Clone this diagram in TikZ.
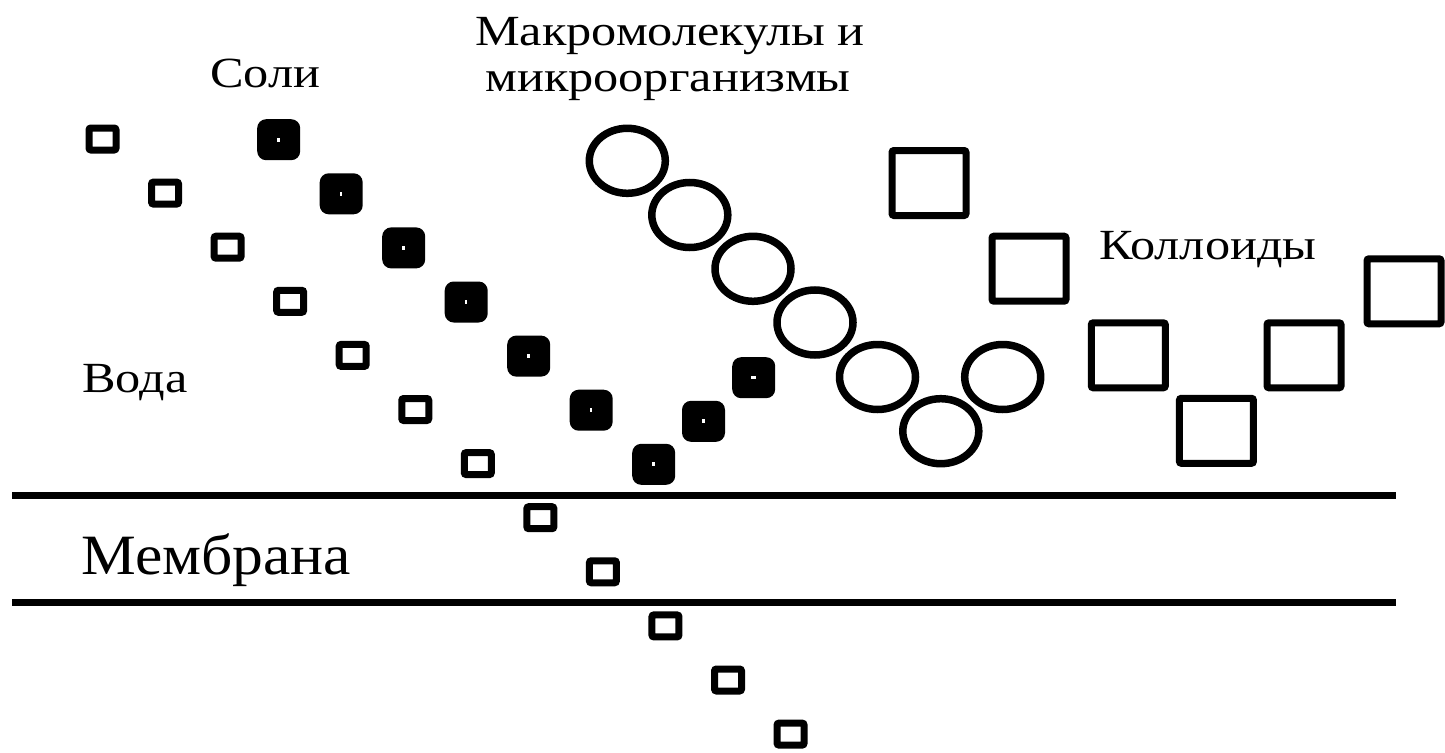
\documentclass[tikz,border=0pt]{standalone}
\usepackage{fontspec}
\setmainfont{Liberation Serif}
\usetikzlibrary{shapes.geometric}
\begin{document}
\begin{tikzpicture}[x=1pt,y=-1pt,
  water/.style={draw=black,line width=7pt,rectangle,rounded corners=2pt,inner sep=0pt,minimum width=27pt,minimum height=22pt},
  salt/.style={fill=black,rectangle,rounded corners=9pt,inner sep=0pt,minimum width=43pt,minimum height=41pt},
  saltdot/.style={fill=white,rectangle,inner sep=0pt,minimum width=2.5pt,minimum height=4pt},
  macro/.style={draw=black,line width=7.5pt,ellipse,inner sep=0pt,minimum width=76pt,minimum height=65pt},
  colloid/.style={draw=black,line width=7pt,rectangle,rounded corners=2pt,inner sep=0pt,minimum width=74pt,minimum height=65pt},
  lbl/.style={font=\fontsize{43}{50}\selectfont,inner sep=0pt,anchor=base west,xscale=1.17},
  membline/.style={line width=6.5pt}]
\useasboundingbox (0,0) rectangle (1445,752);
% water
\foreach \i in {0,...,11}{
  \node[water] (w\i) at ({102.5+62.55*\i},{139+54.1*\i}) {};
}
% salts
\foreach \i in {0,...,6}{
  \node[salt] (s\i) at ({278.7+62.5*\i},{139.7+54.1*\i}) {};
  \node[saltdot] (sd\i) at (s\i.center) {};
}
\node[salt] (s7) at (703.5,421.3) {};
\node[saltdot] (sd7) at (s7.center) {};
\node[salt] (s8) at (753.7,377.7) {};
\node[saltdot,minimum width=5pt,minimum height=2.5pt] (sd8) at (s8.center) {};
% macromolecules
\node[macro] (m1) at (627.3,160.8) {};
\node[macro] (m2) at (689.8,215) {};
\node[macro] (m3) at (753,268.8) {};
\node[macro] (m4) at (815,322.5) {};
\node[macro] (m5) at (877.5,377) {};
\node[macro] (m6) at (940.8,431.2) {};
\node[macro] (m7) at (1002.7,377) {};
% colloids
\node[colloid] (c1) at (929,183) {};
\node[colloid] (c2) at (1029,268.7) {};
\node[colloid] (c3) at (1404,291.3) {};
\node[colloid] (c4) at (1128.3,355.3) {};
\node[colloid] (c5) at (1304,355.3) {};
\node[colloid] (c6) at (1216.4,430.8) {};
% membrane
\coordinate (mt1) at (12,495.3);
\coordinate (mt2) at (1396,495.3);
\coordinate (mb1) at (12,602.7);
\coordinate (mb2) at (1396,602.7);
\draw[membline] (mt1) -- (mt2);
\draw[membline] (mb1) -- (mb2);
% labels
\node[lbl] (tsoli) at (210,87) {Соли};
\node[lbl] (tvoda) at (82,392) {Вода};
\node[lbl] (tkoll) at (1099,259) {Коллоиды};
\node[lbl,anchor=base] (tmacro1) at (670,46) {Макромолекулы и};
\node[lbl,anchor=base] (tmacro2) at (668,91) {микроорганизмы};
\node[lbl,font=\fontsize{57}{66}\selectfont,xscale=1.08/1.17] (tmemb) at (81,574) {Мембрана};
\end{tikzpicture}
\end{document}
